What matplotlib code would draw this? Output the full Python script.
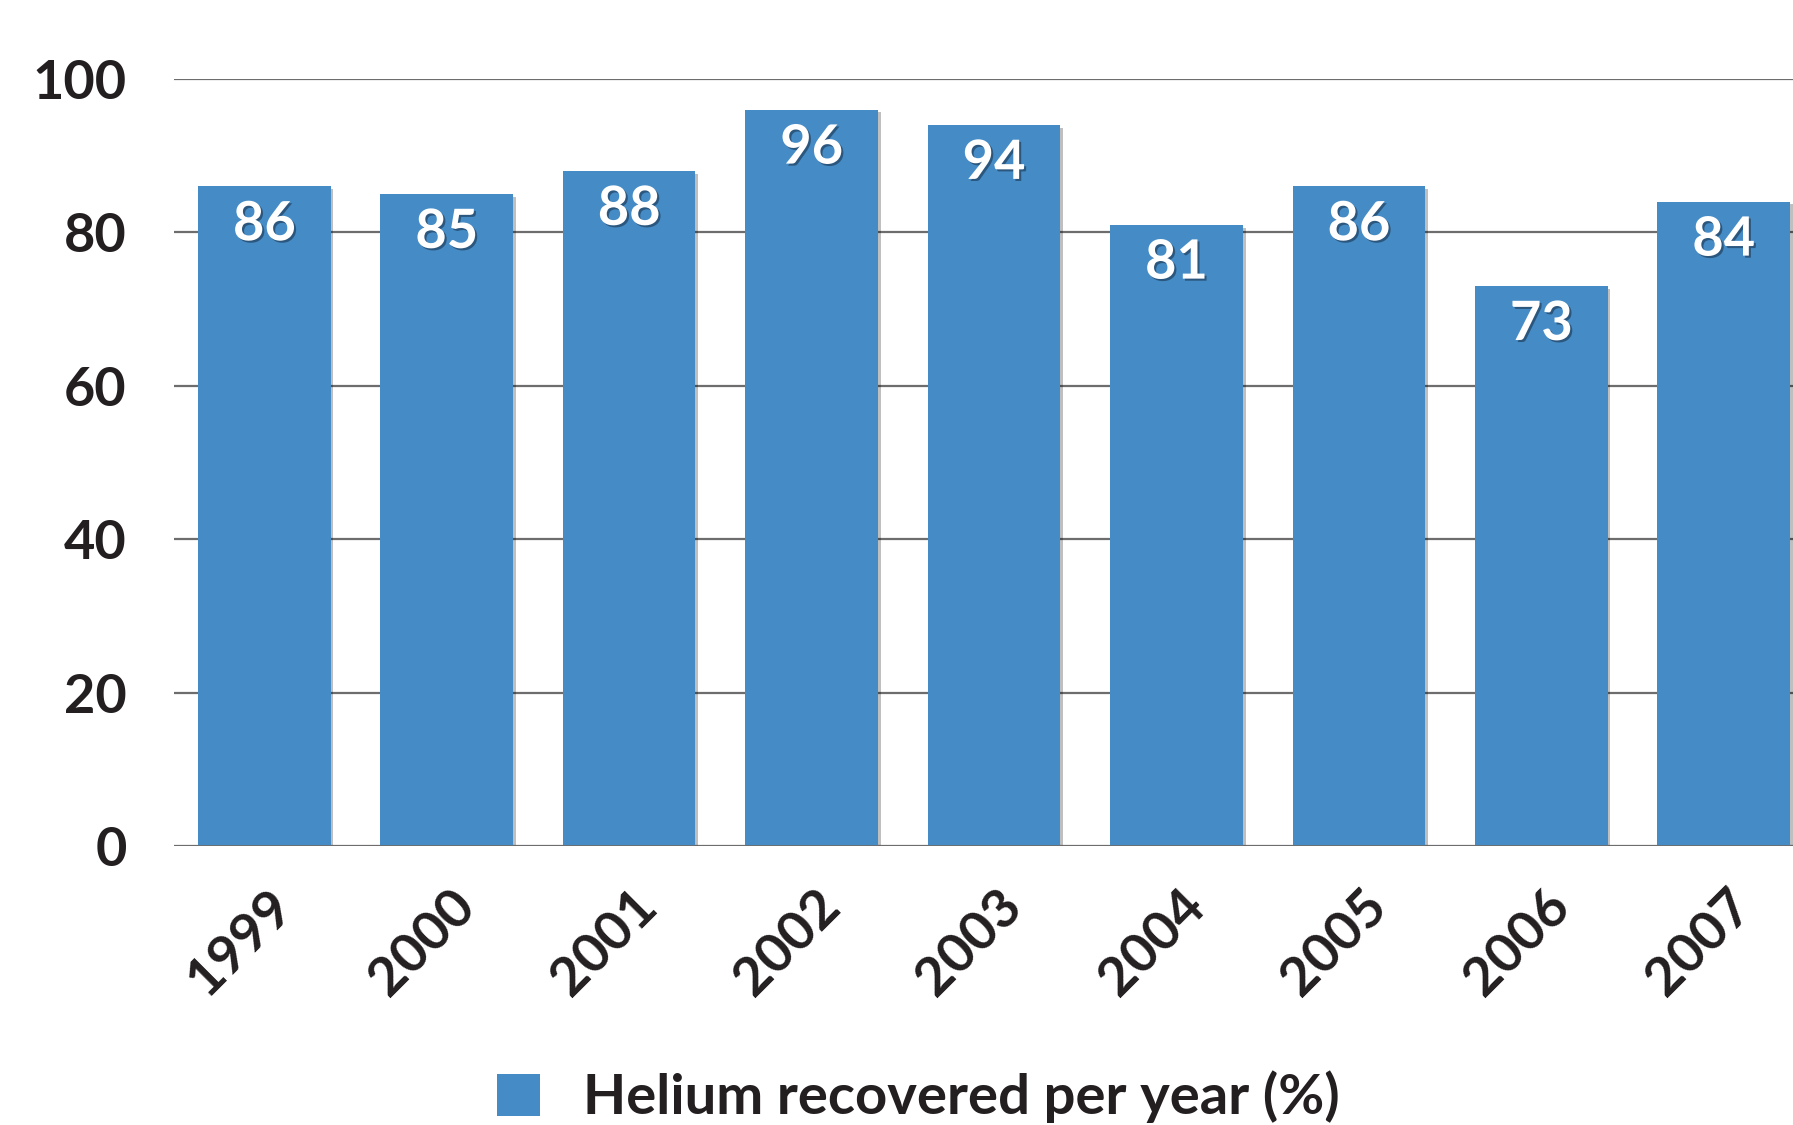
import matplotlib
matplotlib.use("Agg")
import matplotlib.pyplot as plt
import matplotlib.patheffects as pe
from matplotlib.patches import Patch
from matplotlib.transforms import ScaledTranslation

years = ["1999", "2000", "2001", "2002", "2003", "2004", "2005", "2006", "2007"]
values = [86, 85, 88, 96, 94, 81, 86, 73, 84]
yticks = [0, 20, 40, 60, 80, 100]
legend_label = "Helium recovered per year (%)"

bar_color = "#458cc6"
font = "Lato"
fw = "bold"
fs = 39

fig = plt.figure(figsize=(17.93, 11.25), dpi=100)
ax = fig.add_axes([174 / 1793, 1 - 846 / 1125, 1 - 174 / 1793, (846 - 79) / 1125])

x = list(range(len(years)))
bars = ax.bar(x, values, width=0.727, color=bar_color, zorder=3)
for b in bars:
    b.set_path_effects([pe.SimplePatchShadow(offset=(2, -2), shadow_rgbFace="k", alpha=0.25), pe.Normal()])

for xi, v in zip(x, values):
    ax.annotate(str(v), (xi, v), xytext=(0, -10), textcoords="offset points",
                ha="center", va="top", color="white", fontsize=fs, fontweight=fw,
                family=font, zorder=5,
                path_effects=[pe.SimplePatchShadow(offset=(1.5, -1.5), shadow_rgbFace="#1a3550", alpha=0.6), pe.Normal()])

ax.set_xlim(-0.495, 8.38)
ax.set_ylim(0, 100)
ax.set_yticks(yticks)
ax.set_yticklabels([str(t) for t in yticks], fontsize=fs, fontweight=fw, family=font, color="#231f20")
ax.yaxis.grid(True, color="#6d6d6d", linewidth=1.6, zorder=0)
ax.set_axisbelow(True)
ax.tick_params(axis="y", length=0, pad=34)
ax.tick_params(axis="x", length=0, pad=38)

ax.set_xticks(x)
ax.set_xticklabels(years, rotation=45, ha="right", va="center", rotation_mode="anchor",
                   fontsize=fs, fontweight=fw, family=font, color="#231f20")
off = ScaledTranslation(20 / 100, 0, fig.dpi_scale_trans)
for lab in ax.get_xticklabels():
    lab.set_transform(lab.get_transform() + off)

for s in ax.spines.values():
    s.set_visible(False)
ax.axhline(0, color="#6d6d6d", linewidth=2, zorder=4)

handle = Patch(facecolor=bar_color, edgecolor="none")
fig.legend([handle], [legend_label], loc="center", bbox_to_anchor=(918 / 1793, 1 - 1097 / 1125),
           frameon=False, handlelength=0.78, handleheight=0.78, handletextpad=0.75,
           prop={"family": font, "weight": fw, "size": 40.5})
for t in fig.legends[0].get_texts():
    t.set_color("#231f20")

fig.savefig("out.png", dpi=100)
